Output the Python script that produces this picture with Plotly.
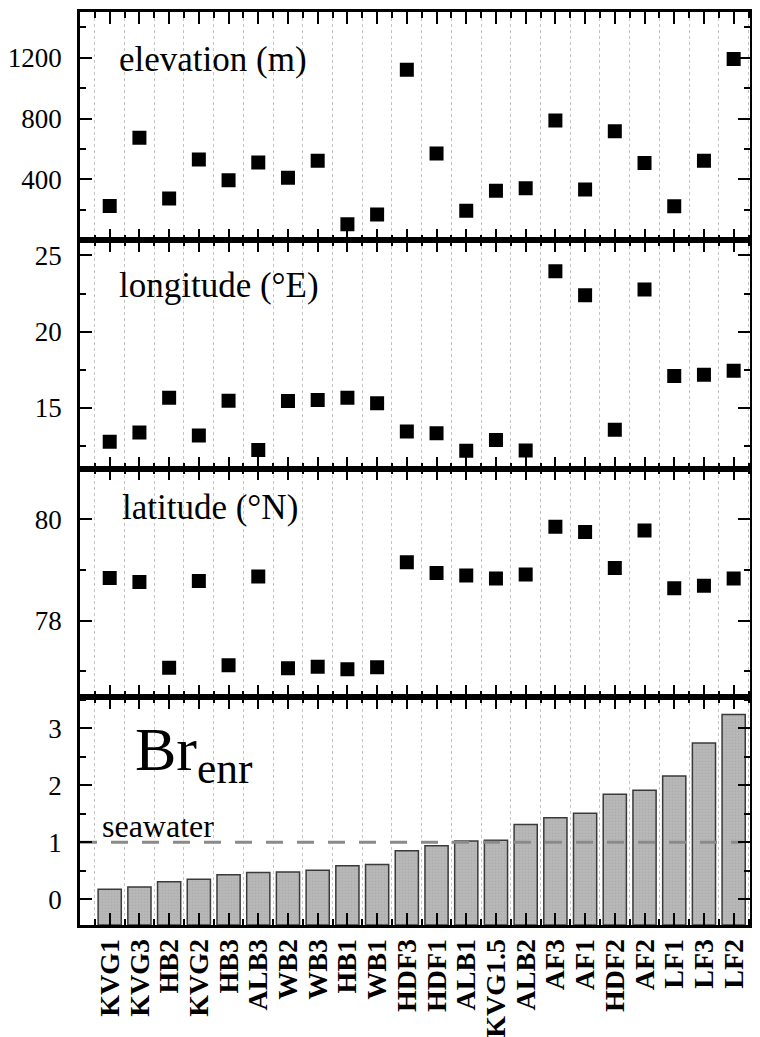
import plotly.graph_objects as go

categories = ["KVG1", "KVG3", "HB2", "KVG2", "HB3", "ALB3", "WB2", "WB3", "HB1", "WB1",
              "HDF3", "HDF1", "ALB1", "KVG1.5", "ALB2", "AF3", "AF1", "HDF2", "AF2",
              "LF1", "LF3", "LF2"]
elevation = [225, 673, 275, 531, 395, 511, 410, 522, 105, 170,
             1121, 570, 194, 325, 341, 787, 334, 717, 507, 223, 522, 1191]
longitude = [12.75, 13.36, 15.65, 13.17, 15.46, 12.21, 15.44, 15.50, 15.65, 15.29,
             13.43, 13.32, 12.16, 12.88, 12.18, 23.97, 22.38, 13.54, 22.77, 17.08, 17.16, 17.42]
latitude = [78.84, 78.76, 77.07, 78.78, 77.12, 78.87, 77.06, 77.09, 77.04, 77.08,
            79.15, 78.94, 78.89, 78.83, 78.91, 79.85, 79.75, 79.04, 79.78, 78.64, 78.69, 78.83]
br_enr = [0.175, 0.216, 0.31, 0.35, 0.43, 0.47, 0.48, 0.51, 0.59, 0.61,
          0.85, 0.94, 1.02, 1.035, 1.31, 1.43, 1.51, 1.84, 1.91, 2.16, 2.74, 3.24]
seawater_level = 1.0

pos = list(range(len(categories)))
FONT = "Liberation Serif"
bar_floor = -0.45

fig = go.Figure()

for vals, xa, ya in [(elevation, "x", "y"), (longitude, "x2", "y2"), (latitude, "x3", "y3")]:
    fig.add_trace(go.Scatter(x=pos, y=vals, mode="markers", xaxis=xa, yaxis=ya,
                             marker=dict(symbol="square", size=14, color="black"),
                             showlegend=False))

fig.add_trace(go.Bar(x=pos, y=[v - bar_floor for v in br_enr], base=[bar_floor] * len(pos),
                     xaxis="x4", yaxis="y4", width=0.78,
                     marker=dict(color="#b2b2b2", line=dict(color="#3a3a3a", width=1.5),
                                 pattern=dict(shape=".", fgcolor="#9a9a9a", bgcolor="#b8b8b8",
                                              size=3, solidity=0.25)),
                     showlegend=False))

fig.add_trace(go.Scatter(x=[-1, 21.3], y=[seawater_level, seawater_level], mode="lines",
                         xaxis="x4", yaxis="y4",
                         line=dict(color="#8a8a8a", width=3, dash="17px,14px"),
                         showlegend=False))

xcommon = dict(range=[-1, 21.55], tickmode="array", tickvals=pos, ticks="inside", ticklen=12,
               tickwidth=2, tickcolor="black", showline=True, linewidth=2.5, linecolor="black",
               mirror="ticks", showgrid=False, zeroline=False, automargin=False,
               minor=dict(tickmode="array", tickvals=[p + 0.5 for p in [-1] + pos],
                          ticks="inside", ticklen=6, tickwidth=2, tickcolor="black",
                          showgrid=True, gridcolor="#c4c4c4", gridwidth=1, griddash="dot"))

ycommon = dict(ticks="inside", ticklen=12, tickwidth=2, tickcolor="black", showline=True,
               linewidth=2.5, linecolor="black", mirror="ticks", showgrid=False, zeroline=False,
               tickfont=dict(family=FONT, size=27, color="black"), ticklabelstandoff=10,
               tickmode="array", automargin=False)

def yax(rng, tv, mv, dom):
    d = dict(ycommon)
    d.update(range=rng, tickvals=tv, domain=dom,
             minor=dict(tickmode="array", tickvals=mv, ticks="inside", ticklen=6,
                        tickwidth=2, tickcolor="black", showgrid=False))
    return d

# page body has an 8px margin, so the figure is offset by 8px right and down
fig.update_layout(
    width=752, height=1029,
    margin=dict(l=72, r=10, t=4, b=112),
    plot_bgcolor="white", paper_bgcolor="white",
    bargap=0.2,
    xaxis=dict(xcommon, anchor="y", showticklabels=False),
    xaxis2=dict(xcommon, anchor="y2", showticklabels=False, matches="x"),
    xaxis3=dict(xcommon, anchor="y3", showticklabels=False, matches="x"),
    xaxis4=dict(xcommon, anchor="y4", showticklabels=True, matches="x",
                ticktext=["<b>" + c + "</b>" for c in categories], tickangle=-90,
                tickfont=dict(family=FONT, size=28, color="black")),
    yaxis=yax([0, 1500], [400, 800, 1200], [200, 600, 1000, 1400], [0.75, 1.0]),
    yaxis2=yax([11, 26], [15, 20, 25], [12.5, 17.5, 22.5], [0.5, 0.75]),
    yaxis3=yax([76.5, 81], [78, 80], [77, 79], [0.25, 0.5]),
    yaxis4=yax([bar_floor, 3.55], [0, 1, 2, 3], [0.5, 1.5, 2.5, 3.5], [0.0, 0.25]),
)

ann_font = dict(family=FONT, size=35, color="black")
fig.add_annotation(text="elevation (m)", xref="x", yref="y domain", x=0.24, y=0.79,
                   xanchor="left", yanchor="middle", showarrow=False, font=ann_font)
fig.add_annotation(text="longitude (°E)", xref="x2", yref="y2 domain", x=0.24, y=0.80,
                   xanchor="left", yanchor="middle", showarrow=False, font=ann_font)
fig.add_annotation(text="latitude (°N)", xref="x3", yref="y3 domain", x=0.34, y=0.83,
                   xanchor="left", yanchor="middle", showarrow=False, font=ann_font)
fig.add_annotation(text="Br<sub>enr</sub>", xref="x4", yref="y4 domain", x=0.78, y=0.75,
                   xanchor="left", yanchor="middle", showarrow=False,
                   font=dict(family=FONT, size=62, color="black"))
fig.add_annotation(text="seawater", xref="x4", yref="y4", x=-0.34, y=1.29,
                   xanchor="left", yanchor="middle", showarrow=False,
                   font=dict(family=FONT, size=32, color="black"))

fig.write_html("out.html")
